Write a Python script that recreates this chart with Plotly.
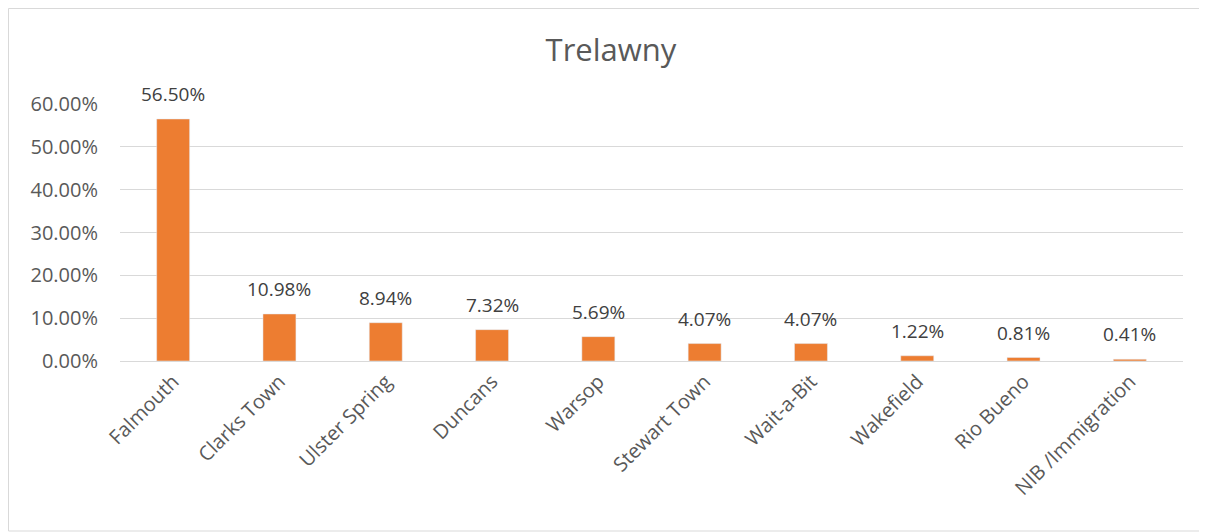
import plotly.graph_objects as go

categories = ["Falmouth", "Clarks Town", "Ulster Spring", "Duncans", "Warsop",
              "Stewart Town", "Wait-a-Bit", "Wakefield", "Rio Bueno", "NIB /Immigration"]
values = [0.5650, 0.1098, 0.0894, 0.0732, 0.0569, 0.0407, 0.0407, 0.0122, 0.0081, 0.0041]
tick_vals = [0, 0.1, 0.2, 0.3, 0.4, 0.5, 0.6]
tick_text = ["0.00%", "10.00%", "20.00%", "30.00%", "40.00%", "50.00%", "60.00%"]

# page body has an 8px margin, so the figure is drawn 8px in from the window
W, H = 1199, 524
ml, mt = 112, 96
pw, ph = 1063, 257
mr, mb = W - ml - pw, H - mt - ph

fig = go.Figure()
fig.add_trace(go.Bar(
    x=categories, y=values,
    marker_color="#ED7D31",
    hovertemplate="%{x}: %{y:.2%}<extra></extra>",
))

# data labels sit well above the bar tops, as in the Excel chart
for cat, v in zip(categories, values):
    fig.add_annotation(x=cat, y=v, text=f"{v*100:.2f}%", showarrow=False,
                       yanchor="middle", yshift=25,
                       font=dict(size=19, color="#404040"))

fig.update_layout(
    width=W, height=H,
    margin=dict(l=ml, r=mr, t=mt, b=mb),
    plot_bgcolor="white", paper_bgcolor="white",
    font=dict(family="Open Sans, Liberation Sans, sans-serif", color="#595959", size=18),
    title=dict(text="Trelawny", x=603 / W, xanchor="center", y=1 - 42 / H, yanchor="middle",
               font=dict(size=31, color="#595959")),
    bargap=0.69,
    showlegend=False,
    xaxis=dict(tickangle=-45, showgrid=False, showline=True, linecolor="#D9D9D9",
               tickfont=dict(size=20, color="#595959")),
    yaxis=dict(range=[0, 0.6], tickvals=tick_vals, ticktext=tick_text,
               showgrid=True, gridcolor="#D9D9D9", zeroline=False,
               ticks="", ticklen=0, ticklabelstandoff=21,
               tickfont=dict(size=20, color="#595959")),
    shapes=[dict(type="rect", xref="paper", yref="paper",
                 x0=(0.5 - ml) / pw, x1=(1195 - ml) / pw,
                 y0=-(mb - 1) / ph, y1=(ph + mt - 0.5) / ph,
                 line=dict(color="#D9D9D9", width=1))],
)

fig.write_html("out.html")
